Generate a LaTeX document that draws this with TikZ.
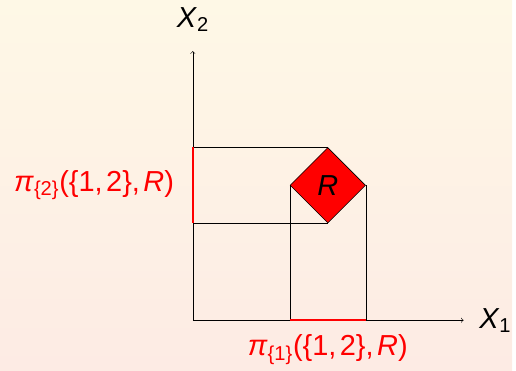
\documentclass[tikz,border=0pt]{standalone}
\usepackage{fontspec}
\setmainfont{Liberation Sans}
\usetikzlibrary{shapes.geometric}
\definecolor{bgtop}{RGB}{254,248,230}
\definecolor{bgbot}{RGB}{253,235,228}

\begin{document}
\begin{tikzpicture}[font=\huge]
\shade[top color=bgtop, bottom color=bgbot] (-4.858,-1.2575) rectangle (8.0425,8.0675);
\coordinate (o) at (0,0);
\coordinate (xend) at (6.82,0);
\coordinate (yend) at (0,6.78);
\node[draw, diamond, aspect=1, fill=red, minimum size=1.9cm, inner sep=0pt] (r) at (3.4,3.4) {\textit{R}};
\node (x1) at (7.62,0) {\textit{X}\textsubscript{1}};
\node (x2) at (0,7.57) {\textit{X}\textsubscript{2}};
\node[text=red, anchor=east] (pi2) at (-0.35,3.4) {\textit{π}\textsubscript{\{2\}}(\{1,\kern0.12em2\},\kern0.12em\textit{R})};
\node[text=red] (pi1) at (3.4,-0.74) {\textit{π}\textsubscript{\{1\}}(\{1,\kern0.12em2\},\kern0.12em\textit{R})};
\draw[->] (o) -- (xend);
\draw[->] (o) -- (yend);
\draw (r.north) -- (r.north -| o);
\draw (r.south) -- (r.south -| o);
\draw (r.west) -- (r.west |- o);
\draw (r.east) -- (r.east |- o);
\draw[red, line width=1.8pt] (r.north -| o) -- (r.south -| o);
\draw[red, line width=1.8pt] (r.west |- o) -- (r.east |- o);
\end{tikzpicture}
\end{document}
